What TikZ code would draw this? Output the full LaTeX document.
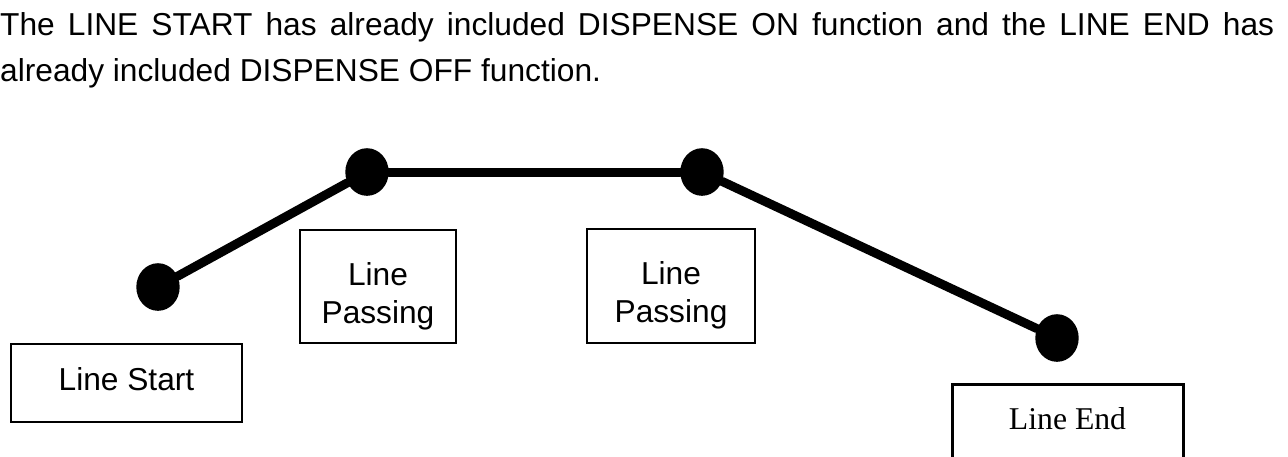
\documentclass[tikz,border=0pt]{standalone}
\usepackage{fontspec}
\setmainfont{Liberation Sans}
\newfontfamily\timesfont{Liberation Serif}
\usetikzlibrary{shapes.geometric}

\tikzset{
  joint/.style={ellipse,fill=black,inner sep=0pt,minimum width=43.4pt,minimum height=47.6pt},
  fnbox/.style={draw,line width=2pt,inner sep=0pt,font=\fontsize{31.7}{38}\selectfont},
  track/.style={line width=9pt,line cap=round}
}

\begin{document}
\begin{tikzpicture}[x=1pt,y=-1pt]
  \useasboundingbox (0,0) rectangle (1288,456);
  \clip (0,0) rectangle (1288,456);
  % heading
  \node[anchor=base west,inner sep=0pt,text width=1274pt,align=justify,
        font=\fontsize{31.7}{46}\selectfont]
    (note) at (0,35.5)
    {\hyphenpenalty=10000\relax\tolerance=9999\relax
     The LINE START has already included DISPENSE ON function and the LINE END has already included DISPENSE OFF function.};
  % points on the line
  \draw
    (158,287) node[joint] (p0){}
    (367,172) node[joint] (p1){}
    (702,172) node[joint] (p2){}
    (1057,338) node[joint] (p3){};
  \begin{scope}[track]
    \draw (p0) to (p1);
    \draw (p1) to (p2);
    \draw (p2) to (p3);
  \end{scope}
  % boxes under the points
  \node[fnbox,minimum width=231pt,minimum height=78pt,text height=23pt,text depth=9pt]
    (start) at (126.5,383) {Line Start};
  \node[fnbox,minimum width=156pt,minimum height=113pt,text width=150pt,align=center,text height=40pt,text depth=43pt]
    (passa) at (378,286.5) {Line\\Passing};
  \node[fnbox,minimum width=168pt,minimum height=114pt,text width=160pt,align=center,text height=40pt,text depth=43pt]
    (passb) at (671,286) {Line\\Passing};
  \node[fnbox,line width=3pt,font=\timesfont\fontsize{31.7}{38}\selectfont,minimum width=231pt,minimum height=100pt,text height=21pt,text depth=31pt]
    (finish) at (1067.5,434) {Line End};
\end{tikzpicture}
\end{document}
